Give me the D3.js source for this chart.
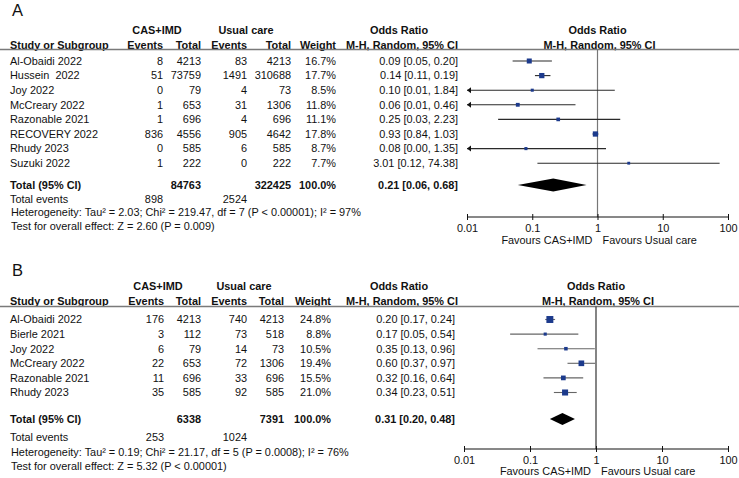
<!DOCTYPE html>
<html>
<head>
<meta charset="utf-8">
<script src="https://cdn.jsdelivr.net/npm/d3@7"></script>
<style>
  body { margin: 0; background: #fff; }
  text { font-family: "Liberation Sans", Arial, sans-serif; font-size: 10.9px; fill: #111; white-space: pre; }
  .b { font-weight: bold; }
</style>
</head>
<body>
<script>
// ---- panel A data ----
var aStudies = ["Al-Obaidi 2022", "Hussein  2022", "Joy 2022", "McCreary 2022", "Razonable 2021", "RECOVERY 2022", "Rhudy 2023", "Suzuki 2022"];
var aEv1 = [8, 51, 0, 1, 1, 836, 0, 1];
var aN1 = [4213, 73759, 79, 653, 696, 4556, 585, 222];
var aEv2 = [83, 1491, 4, 31, 4, 905, 6, 0];
var aN2 = [4213, 310688, 73, 1306, 696, 4642, 585, 222];
var aWeight = [16.7, 17.7, 8.5, 11.8, 11.1, 17.8, 8.7, 7.7];
var aOr = [0.09, 0.14, 0.10, 0.06, 0.25, 0.93, 0.08, 3.01];
var aLo = [0.05, 0.11, 0.01, 0.01, 0.03, 0.84, 0.00, 0.12];
var aHi = [0.20, 0.19, 1.84, 0.46, 2.23, 1.03, 1.35, 74.38];
var aTotal = {n1: 84763, n2: 322425, ev1: 898, ev2: 2524, or: 0.21, lo: 0.06, hi: 0.68};
var aHet = "Heterogeneity: Tau\u00b2 = 2.03; Chi\u00b2 = 219.47, df = 7 (P < 0.00001); I\u00b2 = 97%";
var aTest = "Test for overall effect: Z = 2.60 (P = 0.009)";

// ---- panel B data ----
var bStudies = ["Al-Obaidi 2022", "Bierle 2021", "Joy 2022", "McCreary 2022", "Razonable 2021", "Rhudy 2023"];
var bEv1 = [176, 3, 6, 22, 11, 35];
var bN1 = [4213, 112, 79, 653, 696, 585];
var bEv2 = [740, 73, 14, 72, 33, 92];
var bN2 = [4213, 518, 73, 1306, 696, 585];
var bWeight = [24.8, 8.8, 10.5, 19.4, 15.5, 21.0];
var bOr = [0.20, 0.17, 0.35, 0.60, 0.32, 0.34];
var bLo = [0.17, 0.05, 0.13, 0.37, 0.16, 0.23];
var bHi = [0.24, 0.54, 0.96, 0.97, 0.64, 0.51];
var bTotal = {n1: 6338, n2: 7391, ev1: 253, ev2: 1024, or: 0.31, lo: 0.20, hi: 0.48};
var bHet = "Heterogeneity: Tau\u00b2 = 0.19; Chi\u00b2 = 21.17, df = 5 (P = 0.0008); I\u00b2 = 76%";
var bTest = "Test for overall effect: Z = 5.32 (P < 0.00001)";

var tickVals = [0.01, 0.1, 1, 10, 100];

var W = 739, H = 478;
var svg = d3.select("body").append("svg").attr("width", W).attr("height", H);

function f2(v) { return v.toFixed(2); }
function ciText(o, l, h) { return f2(o) + " [" + f2(l) + ", " + f2(h) + "]"; }

function drawPanel(d, L) {
  var g = svg.append("g");
  var x = d3.scaleLog().domain([0.01, 100]).range([L.x0, L.x1]);
  var y = function (i) { return L.row0 + i * L.rowH; };

  g.append("text").attr("x", 12).attr("y", L.top)
    .style("font-size", "16.5px").text(d.label);

  // group headers
  g.append("text").attr("class", "b").attr("x", L.grp1).attr("y", L.h1).attr("dy", "0.35em")
    .attr("text-anchor", "middle").text("CAS+IMD");
  g.append("text").attr("class", "b").attr("x", L.grp2).attr("y", L.h1).attr("dy", "0.35em")
    .attr("text-anchor", "middle").text("Usual care");
  g.append("text").attr("class", "b").attr("x", 399).attr("y", L.h1).attr("dy", "0.35em")
    .attr("text-anchor", "middle").text("Odds Ratio");
  g.append("text").attr("class", "b").attr("x", x(1)).attr("y", L.h1).attr("dy", "0.35em")
    .attr("text-anchor", "middle").text("Odds Ratio");

  var hdr = [
    [10, "start", "Study or Subgroup"], [L.c.ev1, "end", "Events"], [L.c.n1, "end", "Total"],
    [L.c.ev2, "end", "Events"], [L.c.n2, "end", "Total"], [L.c.w, "end", "Weight"],
    [402, "middle", "M-H, Random, 95% CI"], [x(1) + 2, "middle", "M-H, Random, 95% CI"]
  ];
  g.selectAll(".hdr").data(hdr).enter().append("text").attr("class", "b")
    .attr("x", function (h) { return h[0]; }).attr("y", L.h2).attr("dy", "0.35em")
    .attr("text-anchor", function (h) { return h[1]; }).text(function (h) { return h[2]; });

  g.append("line").attr("x1", 0).attr("x2", W).attr("y1", L.rule).attr("y2", L.rule)
    .attr("stroke", "#7a7a7a").attr("stroke-width", 1.3);

  // rows
  var rows = d.studies.map(function (s, i) {
    return {s: s, ev1: d.ev1[i], n1: d.n1[i], ev2: d.ev2[i], n2: d.n2[i], w: d.weight[i],
            or: d.or[i], lo: d.lo[i], hi: d.hi[i], i: i};
  });
  var cols = [["s", 10, "start"], ["ev1", L.c.ev1, "end"], ["n1", L.c.n1, "end"],
              ["ev2", L.c.ev2, "end"], ["n2", L.c.n2, "end"], ["w", L.c.w, "end"]];
  cols.forEach(function (c) {
    g.selectAll(".c" + c[0]).data(rows).enter().append("text")
      .attr("x", c[1]).attr("y", function (r) { return y(r.i); }).attr("dy", "0.35em")
      .attr("text-anchor", c[2])
      .text(function (r) { return c[0] === "w" ? r.w.toFixed(1) + "%" : r[c[0]]; });
  });
  g.selectAll(".orT").data(rows).enter().append("text")
    .attr("x", L.c.or).attr("y", function (r) { return y(r.i); }).attr("dy", "0.35em")
    .attr("text-anchor", "end").text(function (r) { return ciText(r.or, r.lo, r.hi); });

  // zero line
  g.append("line").attr("x1", x(1)).attr("x2", x(1)).attr("y1", L.rule).attr("y2", L.axisY)
    .attr("stroke", L.vcol).attr("stroke-width", 1.2);

  // CIs (printed lower limits are rounded, so 0.01 also runs off the scale)
  function cl(v) { return Math.max(0.01, Math.min(100, v)); }
  g.selectAll(".ci").data(rows).enter().append("line")
    .attr("x1", function (r) { return x(cl(r.lo)); }).attr("x2", function (r) { return x(cl(r.hi)); })
    .attr("y1", function (r) { return y(r.i); }).attr("y2", function (r) { return y(r.i); })
    .attr("stroke", L.cicol).attr("stroke-width", 1.1);
  g.selectAll(".arr").data(rows.filter(function (r) { return r.lo <= 0.01; })).enter().append("path")
    .attr("d", function (r) {
      var xx = x(0.01), yy = y(r.i);
      return "M" + xx + "," + yy + "L" + (xx + 4) + "," + (yy - 3) + "L" + (xx + 4) + "," + (yy + 3) + "Z";
    }).attr("fill", "#111");
  g.selectAll(".sq").data(rows).enter().append("rect")
    .attr("x", function (r) { return x(r.or) - (1 + r.w * 0.24) / 2; })
    .attr("y", function (r) { return y(r.i) - (1 + r.w * 0.24) / 2; })
    .attr("width", function (r) { return 1 + r.w * 0.24; })
    .attr("height", function (r) { return 1 + r.w * 0.24; })
    .attr("fill", "#1c3a8c");

  // totals
  var t = d.total;
  var tr = [[10, "start", "Total (95% CI)"], [L.c.n1, "end", t.n1], [L.c.n2, "end", t.n2],
            [L.c.w, "end", "100.0%"], [L.c.or, "end", ciText(t.or, t.lo, t.hi)]];
  g.selectAll(".tot").data(tr).enter().append("text").attr("class", "b")
    .attr("x", function (r) { return r[0]; }).attr("y", L.totY).attr("dy", "0.35em")
    .attr("text-anchor", function (r) { return r[1]; }).text(function (r) { return r[2]; });
  g.append("path").attr("d",
    "M" + x(t.lo) + "," + L.totY + "L" + x(t.or) + "," + (L.totY - L.dh) +
    "L" + x(t.hi) + "," + L.totY + "L" + x(t.or) + "," + (L.totY + L.dh) + "Z")
    .attr("fill", "#000");

  var ev = [[10, "start", "Total events"], [L.c.ev1, "end", t.ev1], [L.c.ev2, "end", t.ev2]];
  g.selectAll(".ev").data(ev).enter().append("text")
    .attr("x", function (r) { return r[0]; }).attr("y", L.evY).attr("dy", "0.35em")
    .attr("text-anchor", function (r) { return r[1]; }).text(function (r) { return r[2]; });
  g.append("text").attr("x", 11).attr("y", L.hetY).attr("dy", "0.35em").text(d.het);
  g.append("text").attr("x", 11).attr("y", L.testY).attr("dy", "0.35em").text(d.test);

  // axis
  var ax = g.append("g").attr("transform", "translate(0," + L.axisY + ")")
    .call(d3.axisBottom(x).tickValues(tickVals).tickSize(4).tickPadding(3)
      .tickFormat(function (v) { return String(v); }));
  ax.select(".domain").attr("stroke", "#111").attr("d", "M" + L.x0 + ",0H" + L.x1);
  ax.selectAll(".tick line").attr("y1", -3).attr("y2", 3).attr("stroke", "#111");
  ax.selectAll(".tick text").style("font-size", "10.9px").attr("fill", "#111")
    .style("font-family", "'Liberation Sans', Arial, sans-serif");

  g.append("text").attr("x", x(1) - 5).attr("y", L.favY).attr("dy", "0.35em")
    .attr("text-anchor", "end").text("Favours CAS+IMD");
  g.append("text").attr("x", x(1) + 5).attr("y", L.favY).attr("dy", "0.35em")
    .attr("text-anchor", "start").text("Favours Usual care");
}

drawPanel(
  {label: "A", studies: aStudies, ev1: aEv1, n1: aN1, ev2: aEv2, n2: aN2, weight: aWeight,
   or: aOr, lo: aLo, hi: aHi, total: aTotal, het: aHet, test: aTest},
  {top: 16, h1: 30, h2: 45, rule: 49.5, row0: 61, rowH: 14.6, totY: 185, evY: 199, hetY: 212.5,
   testY: 226, axisY: 217, favY: 240.5, x0: 467, x1: 728, grp1: 157, grp2: 246, dh: 6.5,
   vcol: "#777", cicol: "#2a2a2a",
   c: {ev1: 163, n1: 201, ev2: 247, n2: 291, w: 336, or: 458}});

drawPanel(
  {label: "B", studies: bStudies, ev1: bEv1, n1: bN1, ev2: bEv2, n2: bN2, weight: bWeight,
   or: bOr, lo: bLo, hi: bHi, total: bTotal, het: bHet, test: bTest},
  {top: 275.5, h1: 286, h2: 301.5, rule: 306.5, row0: 319.5, rowH: 14.6, totY: 419, evY: 437.5, hetY: 452,
   testY: 466, axisY: 449, favY: 471.5, x0: 464, x1: 728, grp1: 158, grp2: 244, dh: 6,
   vcol: "#333", cicol: "#666",
   c: {ev1: 164, n1: 201, ev2: 247, n2: 284, w: 331, or: 455}});
</script>
</body>
</html>
